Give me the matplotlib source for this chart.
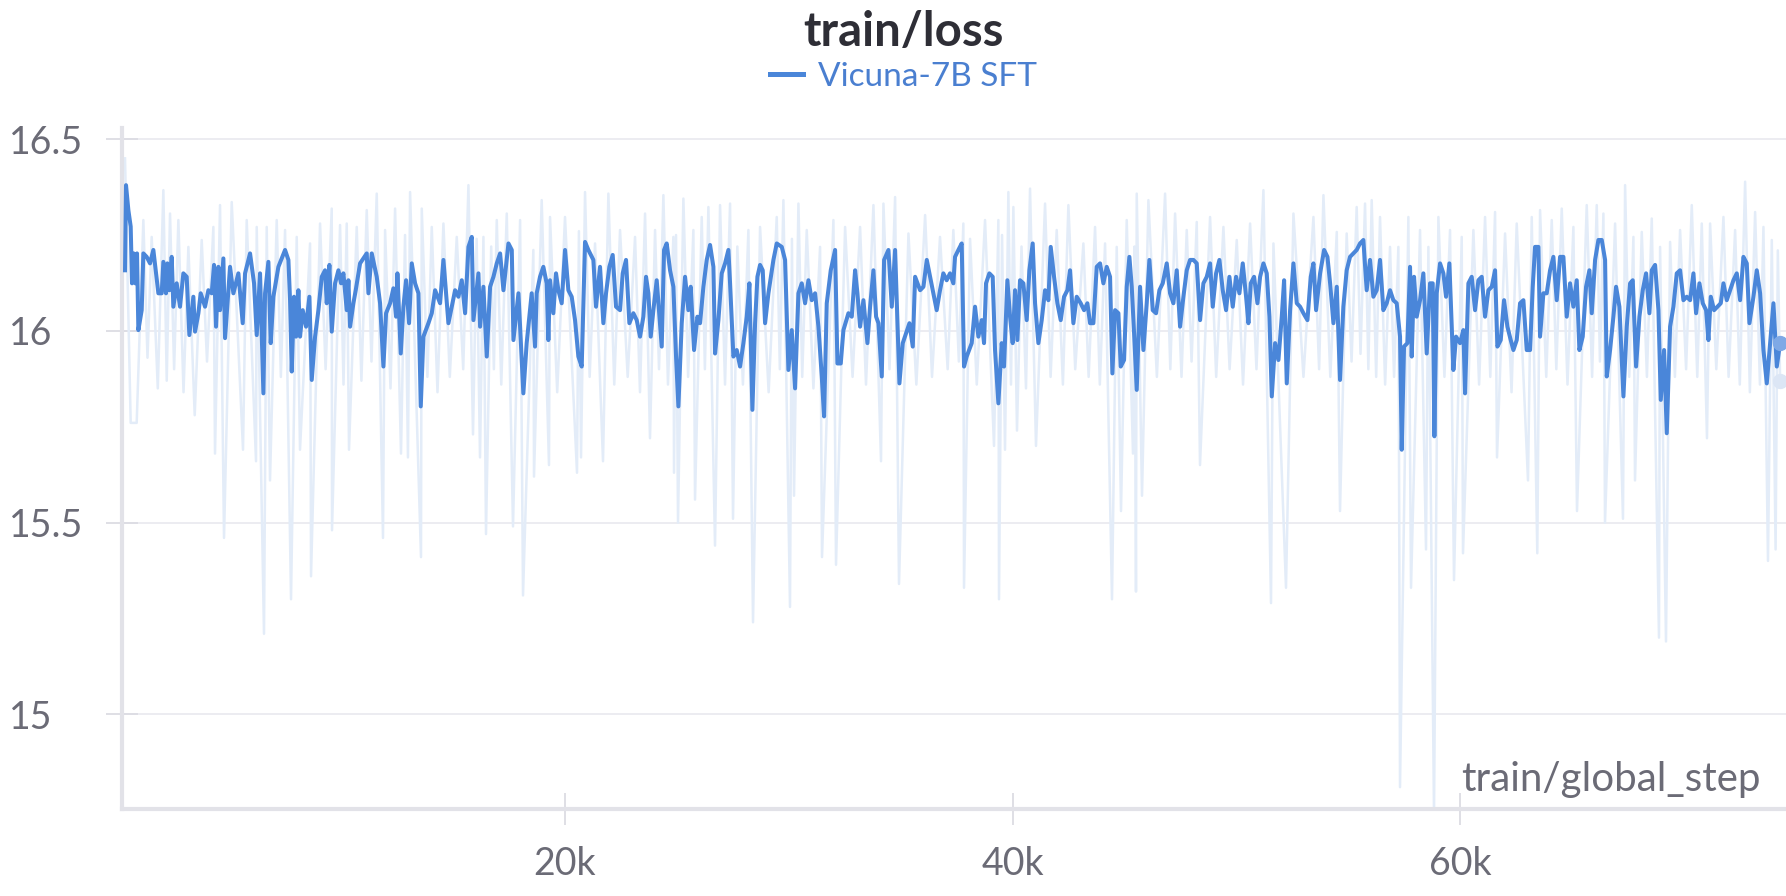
import matplotlib
matplotlib.use('Agg')
import matplotlib.pyplot as plt
from matplotlib.lines import Line2D

# smoothed train/loss as (global_step, loss)
smooth_q1 = [
    (336, 16.158), (380, 16.380), (485, 16.315), (589, 16.272), (648, 16.124), (723, 16.202),
    (797, 16.124), (872, 16.202), (932, 16.002), (1081, 16.054), (1155, 16.202), (1304, 16.193),
    (1453, 16.176), (1602, 16.211), (1721, 16.150), (1826, 16.098), (1975, 16.098), (2049, 16.180),
    (2168, 16.098), (2228, 16.176), (2317, 16.106), (2422, 16.193), (2496, 16.063), (2645, 16.124),
    (2794, 16.063), (2943, 16.150), (3092, 16.141), (3211, 15.989), (3390, 16.089), (3465, 15.998),
    (3614, 16.046), (3718, 16.098), (3912, 16.063), (4061, 16.106), (4210, 16.098), (4314, 16.172),
    (4403, 16.011), (4508, 16.167), (4582, 16.054), (4731, 16.189), (4806, 15.981), (5029, 16.167),
    (5178, 16.098), (5402, 16.150), (5595, 16.020), (5700, 16.150), (5923, 16.202), (6102, 16.124),
    (6221, 15.989), (6370, 16.150), (6519, 15.837), (6594, 16.098), (6743, 16.180), (6847, 15.968),
    (6966, 16.089), (7190, 16.167), (7488, 16.211), (7637, 16.185), (7711, 16.080), (7786, 15.894),
    (7890, 16.089), (7979, 15.985), (8084, 16.106), (8158, 15.985), (8277, 16.054), (8426, 16.011),
    (8575, 16.089), (8680, 15.872), (8829, 15.985), (8978, 16.054), (9127, 16.141), (9276, 16.158),
    (9350, 16.072), (9469, 16.172), (9574, 15.998), (9723, 16.124), (9872, 16.158), (9991, 16.124),
    (10095, 16.150), (10244, 16.054), (10319, 16.132), (10393, 16.011), (10542, 16.072), (10646, 16.106),
    (10840, 16.176), (11138, 16.202), (11213, 16.098), (11362, 16.202), (11585, 16.141), (11734, 16.072),
    (11883, 15.907), (12002, 16.046), (12181, 16.072), (12330, 16.111), (12449, 16.037), (12509, 16.150),
    (12658, 15.941), (12777, 16.063), (12896, 16.132), (13030, 16.020), (13150, 16.176), (13299, 16.124),
    (13448, 16.098), (13552, 15.803), (13671, 15.985), (13895, 16.020), (14044, 16.046), (14193, 16.106),
    (14416, 16.072), (14565, 16.185), (14789, 16.020), (14938, 16.063), (15087, 16.106), (15236, 16.089),
    (15385, 16.132), (15534, 16.046), (15683, 16.219), (15832, 16.245), (15906, 16.028), (16130, 16.150),
    (16204, 16.011), (16353, 16.115), (16502, 15.933), (16651, 16.115), (16800, 16.141), (16949, 16.176),
    (17098, 16.202), (17247, 16.106), (17471, 16.228), (17620, 16.211), (17694, 15.976), (17918, 16.098),
]
smooth_q2 = [
    (18137, 15.837), (18286, 15.968), (18510, 16.098), (18659, 15.959), (18733, 16.098), (18882, 16.141),
    (19031, 16.167), (19180, 16.124), (19255, 15.976), (19329, 16.132), (19478, 16.046), (19597, 16.150),
    (19702, 16.106), (19851, 16.072), (20000, 16.211), (20149, 16.106), (20298, 16.089), (20447, 16.028),
    (20596, 15.933), (20745, 15.907), (20894, 16.232), (21043, 16.211), (21266, 16.185), (21385, 16.063),
    (21564, 16.167), (21713, 16.020), (21832, 16.098), (21981, 16.167), (22130, 16.198), (22279, 16.063),
    (22458, 16.054), (22577, 16.150), (22726, 16.185), (22875, 16.020), (23054, 16.046), (23203, 16.028),
    (23352, 15.985), (23501, 16.037), (23620, 16.141), (23725, 16.098), (23829, 15.985), (23948, 16.054),
    (24097, 16.132), (24321, 15.959), (24425, 16.211), (24544, 16.228), (24693, 16.158), (24842, 16.115),
    (24961, 15.933), (25066, 15.803), (25215, 16.020), (25364, 16.141), (25513, 16.054), (25617, 16.115),
    (25766, 15.950), (25915, 16.037), (26034, 16.020), (26183, 16.115), (26332, 16.185), (26481, 16.224),
    (26630, 16.167), (26705, 15.941), (26854, 16.028), (27003, 16.150), (27152, 16.176), (27301, 16.211),
    (27375, 16.124), (27524, 15.933), (27673, 15.950), (27822, 15.907), (27971, 15.968), (28120, 16.037),
    (28239, 16.124), (28373, 15.794), (28493, 16.020), (28597, 16.141), (28716, 16.172), (28835, 16.158),
    (28940, 16.020), (29089, 16.098), (29312, 16.185), (29461, 16.228), (29685, 16.219), (29834, 16.185),
    (29983, 15.898), (30132, 16.002), (30281, 15.850), (30430, 16.098), (30579, 16.124), (30728, 16.072),
    (30877, 16.132), (31026, 16.080), (31175, 16.098), (31324, 16.011), (31473, 15.881), (31577, 15.777),
    (31696, 16.072), (31875, 16.158), (32069, 16.211), (32173, 15.915), (32322, 15.915), (32441, 16.002),
    (32665, 16.046), (32814, 16.037), (32963, 16.158), (33067, 16.098), (33186, 16.011), (33335, 16.080),
    (33514, 15.968), (33633, 16.063), (33782, 16.158), (33901, 16.037), (34006, 16.020), (34155, 15.881),
    (34259, 16.185), (34453, 16.211), (34602, 16.063), (34751, 16.211), (34855, 16.020), (34944, 15.863),
    (35093, 15.968), (35242, 15.994), (35391, 16.020), (35540, 15.959), (35645, 16.141), (35868, 16.106),
    (36017, 16.115), (36166, 16.185),
]
smooth_q3 = [
    (36460, 16.098), (36609, 16.054), (36758, 16.106), (36907, 16.150), (37056, 16.132), (37205, 16.150),
    (37354, 16.124), (37429, 16.193), (37578, 16.211), (37727, 16.228), (37831, 15.907), (37950, 15.933),
    (38174, 15.968), (38323, 16.063), (38472, 15.985), (38621, 16.028), (38725, 15.968), (38814, 16.124),
    (38963, 16.150), (39112, 16.141), (39217, 15.950), (39366, 15.811), (39515, 15.968), (39619, 15.907),
    (39768, 16.132), (39887, 16.037), (40006, 15.968), (40111, 16.106), (40215, 15.976), (40334, 16.132),
    (40483, 16.124), (40632, 16.028), (40751, 16.158), (40900, 16.228), (41005, 16.072), (41154, 15.968),
    (41303, 16.028), (41452, 16.106), (41601, 16.080), (41705, 16.219), (41854, 16.141), (42003, 16.072),
    (42152, 16.028), (42301, 16.089), (42450, 16.106), (42569, 16.158), (42718, 16.020), (42867, 16.089),
    (43046, 16.072), (43195, 16.054), (43344, 16.072), (43463, 16.020), (43612, 16.020), (43761, 16.167),
    (43910, 16.176), (44059, 16.124), (44208, 16.167), (44357, 16.141), (44461, 15.889), (44581, 16.054),
    (44730, 16.046), (44834, 15.907), (44983, 15.924), (45102, 16.115), (45221, 16.193), (45326, 16.115),
    (45430, 15.994), (45549, 15.846), (45698, 16.115), (45847, 15.950), (45996, 16.072), (46115, 16.185),
    (46264, 16.054), (46413, 16.046), (46562, 16.106), (46711, 16.124), (46890, 16.176), (47039, 16.098),
    (47188, 16.072), (47337, 16.158), (47486, 16.011), (47635, 16.089), (47784, 16.158), (47933, 16.185),
    (48082, 16.185), (48231, 16.176), (48380, 16.028), (48529, 16.124), (48678, 16.141), (48827, 16.176),
    (48946, 16.063), (49095, 16.150), (49244, 16.185), (49393, 16.106), (49542, 16.054), (49691, 16.141),
    (49840, 16.063), (49989, 16.141), (50138, 16.098), (50287, 16.176), (50436, 16.089), (50541, 16.020),
    (50645, 16.124), (50794, 16.141), (50943, 16.072), (51062, 16.141), (51211, 16.176), (51360, 16.150),
    (51479, 16.037), (51584, 15.829), (51733, 15.968), (51882, 15.924), (52031, 16.037), (52135, 16.132),
    (52254, 15.863), (52403, 16.054), (52552, 16.176), (52701, 16.072), (52850, 16.063), (52999, 16.046),
    (53178, 16.028), (53327, 16.141), (53446, 16.176), (53565, 16.054), (53744, 16.150), (53923, 16.211),
    (54072, 16.193), (54191, 16.124), (54340, 16.020), (54489, 16.115),
]
smooth_q4 = [
    (54634, 15.872), (54783, 16.063), (54932, 16.158), (55081, 16.193), (55230, 16.202), (55379, 16.211),
    (55528, 16.228), (55677, 16.237), (55826, 16.106), (55975, 16.185), (56124, 16.089), (56273, 16.106),
    (56422, 16.185), (56571, 16.054), (56720, 16.072), (56869, 16.106), (57018, 16.080), (57167, 16.072),
    (57316, 15.985), (57391, 15.690), (57495, 15.959), (57644, 15.968), (57763, 16.167), (57838, 15.933),
    (57942, 16.141), (58061, 16.037), (58210, 16.080), (58359, 16.150), (58508, 15.941), (58657, 16.124),
    (58776, 16.124), (58851, 15.725), (58955, 16.098), (59104, 16.176), (59253, 16.150), (59372, 16.089),
    (59521, 16.176), (59700, 15.898), (59819, 15.985), (59998, 15.968), (60147, 16.002), (60222, 15.837),
    (60371, 16.124), (60520, 16.141), (60669, 16.054), (60818, 16.132), (60967, 16.141), (61116, 16.037),
    (61265, 16.106), (61414, 16.115), (61563, 16.158), (61667, 15.959), (61816, 15.976), (61965, 16.080),
    (62114, 16.011), (62263, 15.976), (62382, 15.950), (62531, 15.976), (62680, 16.072), (62829, 16.080),
    (62978, 15.950), (63127, 15.950), (63246, 16.115), (63351, 16.219), (63500, 16.219), (63574, 15.985),
    (63723, 16.098), (63872, 16.098), (64021, 16.158), (64170, 16.193), (64319, 16.080), (64468, 16.193),
    (64617, 16.193), (64766, 16.037), (64915, 16.124), (65064, 16.063), (65213, 16.132), (65332, 15.950),
    (65481, 15.985), (65630, 16.115), (65779, 16.158), (65884, 16.046), (66033, 16.185), (66182, 16.237),
    (66331, 16.237), (66480, 16.185), (66554, 15.881), (66703, 15.950), (66852, 16.037), (66971, 16.115),
    (67120, 16.063), (67299, 15.829), (67448, 16.011), (67597, 16.124), (67716, 16.132), (67865, 15.907),
    (68014, 16.037), (68163, 16.106), (68312, 16.150), (68461, 16.046), (68566, 16.158), (68715, 16.172),
    (68864, 16.054), (68968, 15.820), (69117, 15.950), (69236, 15.733), (69385, 16.011), (69534, 16.063),
    (69683, 16.150), (69832, 16.158), (69981, 16.080), (70130, 16.089), (70279, 16.080), (70428, 16.150),
    (70547, 16.046), (70696, 16.124), (70845, 16.072), (70994, 16.054), (71099, 15.976), (71203, 16.089),
    (71352, 16.054), (71501, 16.063), (71650, 16.072), (71769, 16.124), (71918, 16.080), (72067, 16.106),
    (72216, 16.132), (72365, 16.150), (72514, 16.080), (72663, 16.193), (72812, 16.176), (72931, 16.020),
    (73110, 16.089), (73259, 16.158), (73408, 16.098), (73557, 15.950), (73706, 15.863), (73855, 15.968),
    (74004, 16.072), (74153, 15.907), (74302, 15.968),
]

# raw (unsmoothed) loss: peaks and dips of the pale band
raw_points = [
    (336, 16.45), (589, 15.76), (857, 15.76), (1155, 16.289), (1340, 15.93), (1528, 16.245),
    (1800, 15.85), (2049, 16.367), (2200, 15.87), (2347, 16.306), (2530, 15.90), (2720, 16.289),
    (2950, 15.84), (3167, 16.219), (3450, 15.78), (3763, 16.237), (4000, 15.92), (4284, 16.271),
    (4357, 15.68), (4582, 16.328), (4760, 15.46), (5104, 16.336), (5609, 15.69), (5774, 16.289),
    (6190, 15.66), (6221, 16.271), (6547, 15.21), (6668, 16.271), (6815, 15.61), (7115, 16.289),
    (7300, 15.88), (7488, 16.263), (7754, 15.30), (8009, 16.245), (8156, 15.69), (8605, 16.228),
    (8648, 15.36), (9052, 16.280), (9300, 15.90), (9574, 16.319), (9586, 15.48), (9946, 16.276),
    (10100, 15.86), (10244, 16.280), (10346, 15.69), (10691, 16.271), (10900, 15.87), (11138, 16.315),
    (11350, 15.92), (11585, 16.358), (11865, 15.46), (11958, 16.263), (12200, 15.85), (12405, 16.319),
    (12669, 15.68), (12850, 16.25), (12980, 15.67), (13075, 16.362), (13563, 15.41), (13597, 16.319),
    (13850, 15.88), (14044, 16.271), (14300, 15.84), (14565, 16.280), (14850, 15.88), (15161, 16.245),
    (15450, 15.90), (15683, 16.380), (15887, 15.73), (16050, 16.24), (16200, 15.67), (16353, 16.245),
    (16468, 15.47), (16700, 16.22), (16820, 15.90), (16949, 16.289), (17150, 15.86), (17396, 16.306),
    (17675, 15.49), (17992, 16.289), (18122, 15.31), (18584, 16.211), (18613, 15.62), (18957, 16.341),
    (19283, 15.65), (19329, 16.297), (19650, 15.84), (19999, 16.297), (20535, 15.63), (20620, 16.26),
    (20714, 15.67), (20894, 16.362), (21100, 15.88), (21341, 16.228), (21697, 15.66), (21937, 16.358),
    (22200, 15.86), (22458, 16.263), (22800, 15.88), (23129, 16.245), (23350, 15.84), (23576, 16.306),
    (23797, 15.72), (24023, 16.263), (24200, 15.90), (24395, 16.354), (24600, 15.86), (24842, 16.245),
    (24870, 15.63), (24960, 16.25), (25049, 15.50), (25289, 16.345), (25500, 15.88), (25736, 16.263),
    (25809, 15.56), (26109, 16.297), (26250, 15.90), (26407, 16.323), (26703, 15.44), (26928, 16.328),
    (27150, 15.86), (27375, 16.332), (27507, 15.51), (27700, 16.22), (27950, 15.86), (28195, 16.263),
    (28401, 15.24), (28716, 16.271), (29100, 15.84), (29461, 16.297), (29600, 15.90), (29759, 16.341),
    (30054, 15.28), (30140, 16.24), (30233, 15.57), (30430, 16.332), (30600, 15.88), (30802, 16.263),
    (31100, 15.85), (31398, 16.219), (31484, 15.41), (31994, 16.289), (32110, 15.39), (32516, 16.271),
    (32850, 15.88), (33186, 16.271), (33450, 15.86), (33782, 16.328), (34121, 15.66), (34229, 16.332),
    (34500, 15.90), (34751, 16.349), (34925, 15.34), (35347, 16.254), (35700, 15.86), (36092, 16.302),
    (36400, 15.88), (36758, 16.245), (37100, 15.90), (37354, 16.263), (37600, 15.92), (37801, 16.280),
    (37830, 15.33), (38100, 16.24), (38400, 15.86), (38770, 16.289), (39171, 15.70), (39366, 16.289),
    (39394, 15.30), (39530, 16.25), (39662, 15.69), (39813, 16.362), (39930, 15.86), (40036, 16.323),
    (40198, 15.74), (40400, 16.22), (40600, 15.85), (40781, 16.371), (41047, 15.70), (41452, 16.332),
    (41700, 15.88), (41973, 16.263), (42250, 15.86), (42495, 16.328), (42800, 15.90), (43165, 16.228),
    (43400, 15.88), (43687, 16.271), (43900, 15.86), (44134, 16.228), (44444, 15.30), (44655, 16.219),
    (44846, 15.53), (45102, 16.289), (45382, 15.68), (45450, 16.22), (45516, 15.32), (45549, 16.358),
    (45785, 15.57), (46071, 16.341), (46450, 15.88), (46816, 16.358), (47050, 15.90), (47263, 16.306),
    (47550, 15.88), (47784, 16.263), (48000, 15.92), (48231, 16.284), (48377, 15.65), (48827, 16.297),
    (49100, 15.88), (49423, 16.271), (49700, 15.90), (50019, 16.237), (50300, 15.86), (50615, 16.280),
    (50900, 15.90), (51211, 16.367), (51550, 15.29), (51658, 16.228), (52220, 15.33), (52552, 16.306),
    (53000, 15.88), (53446, 16.297), (53700, 15.90), (53893, 16.354), (54200, 15.88), (54489, 16.258),
    (54634, 15.53), (54932, 16.254), (55150, 15.92), (55379, 16.323), (55550, 15.94), (55752, 16.332),
    (55900, 15.90), (56050, 16.341), (56250, 15.88), (56422, 16.297), (56650, 15.86), (56869, 16.219),
    (57050, 15.88), (57242, 16.219), (57315, 14.81), (57689, 16.297), (57807, 15.33), (58210, 16.263),
    (58477, 15.43), (58583, 16.219), (58835, 14.74), (59030, 16.297), (59300, 15.88), (59551, 16.263),
    (59728, 15.35), (60073, 16.245), (60130, 15.42), (60594, 16.263), (60850, 15.86), (61116, 16.297),
    (61350, 15.88), (61563, 16.310), (61650, 15.67), (62010, 16.254), (62300, 15.84), (62531, 16.280),
    (63035, 15.61), (63202, 16.297), (63450, 15.42), (63574, 16.315), (63850, 15.88), (64096, 16.289),
    (64300, 15.90), (64543, 16.319), (64800, 15.86), (65064, 16.271), (65225, 15.53), (65660, 16.328),
    (65900, 15.88), (66107, 16.328), (66250, 15.92), (66405, 16.306), (66476, 15.50), (66927, 16.280),
    (67280, 15.51), (67374, 16.380), (67560, 15.88), (67746, 16.245), (67817, 15.61), (68119, 16.258),
    (68350, 15.88), (68566, 16.293), (68889, 15.20), (68938, 16.219), (69202, 15.19), (69385, 16.232),
    (69600, 15.88), (69832, 16.263), (70100, 15.90), (70354, 16.328), (70600, 15.88), (70801, 16.280),
    (71034, 15.72), (71173, 16.280), (71450, 15.90), (71769, 16.297), (72000, 15.88), (72291, 16.263),
    (72500, 15.86), (72738, 16.389), (72950, 15.84), (73185, 16.310), (73400, 15.86), (73557, 16.271),
    (73760, 15.40), (73930, 16.237), (74100, 15.43), (74200, 16.21), (74302, 15.87),
]

y_ticks = [15, 15.5, 16, 16.5]
y_labels = ['15', '15.5', '16', '16.5']
x_ticks = [20000, 40000, 60000]
x_labels = ['20k', '40k', '60k']

smooth = smooth_q1 + smooth_q2 + smooth_q3 + smooth_q4
sx = [p[0] for p in smooth]
sy = [p[1] for p in smooth]
rx = [p[0] for p in raw_points]
ry = [p[1] for p in raw_points]

plt.rcParams['font.family'] = ['Lato', 'DejaVu Sans']

blue = '#4a86d9'
pale = '#e3ecf8'
grey_txt = '#6b6b76'

fig = plt.figure(figsize=(17.86, 8.96), dpi=100)
ax = fig.add_axes([0.0683, 0.0971, 0.9317, 0.760])

ax.plot(rx, ry, color=pale, lw=1.8, zorder=1)
ax.plot(sx, sy, color=blue, lw=2.9, zorder=3)
ax.plot(rx[-1], ry[-1], 'o', ms=10, color='#dce6f5', zorder=2)
ax.plot(sx[-1], sy[-1], 'o', ms=10, color='#7fa9e6', zorder=4)

ax.set_xlim(200, 74565)
ax.set_ylim(14.753, 16.529)

for s in ['top', 'right']:
    ax.spines[s].set_visible(False)
for s in ['left', 'bottom']:
    ax.spines[s].set_color('#e2e2e8')
    ax.spines[s].set_linewidth(3)

ax.set_yticks(y_ticks)
ax.set_yticklabels(y_labels)
ax.set_xticks(x_ticks)
ax.set_xticklabels(x_labels)
ax.tick_params(direction='inout', length=23, width=1.3, color='#dcdce3',
               labelsize=27, labelcolor=grey_txt)
ax.tick_params(axis='y', pad=70)
ax.tick_params(axis='x', pad=15)
for lbl in ax.get_yticklabels():
    lbl.set_horizontalalignment('left')

ax.yaxis.grid(True, color='#ebebf0', lw=1.3)
ax.set_axisbelow(True)

ax.text(0.985, 0.0426, 'train/global_step', transform=ax.transAxes,
        ha='right', va='center', fontsize=29, color=grey_txt)

fig.text(0.506, 1 - 32 / 896, 'train/loss', ha='center', va='center',
         fontsize=34, fontweight='bold', color='#2e2e36')
fig.legend(handles=[Line2D([], [], color=blue, lw=3.6)], labels=['Vicuna-7B SFT'],
           loc='center', bbox_to_anchor=(0.506, 1 - 77 / 896), frameon=False,
           fontsize=24, handlelength=1.0, handletextpad=0.45, labelcolor='#4a7fd0')

fig.savefig('out.png', dpi=100)
